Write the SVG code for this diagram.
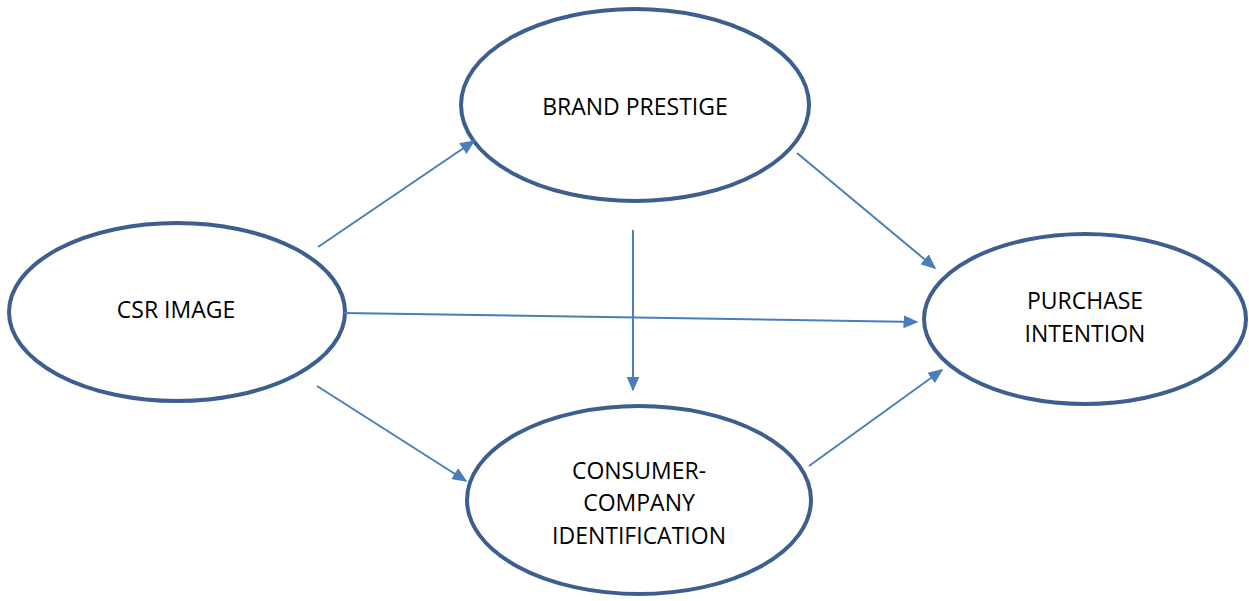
<svg xmlns="http://www.w3.org/2000/svg" width="1249" height="601" viewBox="0 0 1249 601">
<style>
.n{fill:#fff;stroke:#3c5f8f;stroke-width:4}
.t{font-family:"Open Sans","Liberation Sans",sans-serif;font-size:23px;fill:#000;text-anchor:middle}
.c{stroke:#4a7ebb;stroke-width:2;fill:none;marker-end:url(#a)}
</style>
<defs>
<marker id="a" viewBox="0 0 10 10" refX="9" refY="5" markerWidth="15" markerHeight="13" markerUnits="userSpaceOnUse" orient="auto" preserveAspectRatio="none">
<path d="M0,0L10,5L0,10z" fill="#4a7ebb"/>
</marker>
</defs>
<rect width="1249" height="601" fill="#fff"/>
<g id="brand">
<ellipse class="n" cx="635" cy="105" rx="174" ry="96"/>
<text class="t" x="635" y="115">BRAND PRESTIGE</text>
</g>
<g id="csr">
<ellipse class="n" cx="177" cy="312" rx="168" ry="89"/>
<text class="t" x="176" y="318">CSR IMAGE</text>
</g>
<g id="purchase">
<ellipse class="n" cx="1085" cy="319" rx="161" ry="85"/>
<text class="t" x="1085" y="309">PURCHASE</text>
<text class="t" x="1085" y="342">INTENTION</text>
</g>
<g id="consumer">
<ellipse class="n" cx="639" cy="500" rx="172" ry="94"/>
<text class="t" x="639" y="479">CONSUMER-</text>
<text class="t" x="639" y="511">COMPANY</text>
<text class="t" x="639" y="544">IDENTIFICATION</text>
</g>
<g id="connectors">
<line class="c" x1="318" y1="247" x2="474" y2="141"/>
<line class="c" x1="797" y1="153" x2="935" y2="268"/>
<line class="c" x1="344" y1="313" x2="917" y2="322"/>
<line class="c" x1="633" y1="230" x2="633" y2="390"/>
<line class="c" x1="317" y1="386" x2="466" y2="481"/>
<line class="c" x1="809" y1="466" x2="942" y2="370"/>
</g>
</svg>
